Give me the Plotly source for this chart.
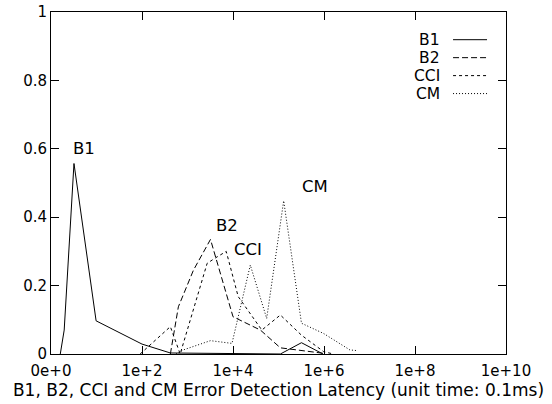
import plotly.graph_objects as go

# ---- data (x = latency in 0.1 ms units, y = fraction) ----
b1_x = [1.6, 1.95, 3.2, 9.8, 100, 420, 1.1e5, 3.2e5, 9.5e5]
b1_y = [0.0, 0.07, 0.557, 0.097, 0.029, 0.003, 0.0, 0.033, 0.0]

b2_x = [420, 630, 1350, 3200, 1.0e4, 4.0e4, 1.1e5, 9.8e5]
b2_y = [0.0, 0.138, 0.245, 0.335, 0.109, 0.07, 0.018, 0.002]

cci_x = [91, 420, 690, 2700, 4000, 7100, 1.3e4, 4.3e4, 1.1e5, 3.2e5, 9.8e5, 1.6e6]
cci_y = [0.0, 0.08, 0.0, 0.265, 0.28, 0.30, 0.168, 0.07, 0.114, 0.055, 0.007, 0.0]

cm_x = [560, 810, 3200, 9500, 2.4e4, 5.5e4, 1.3e5, 3.2e5, 9.8e5, 3.7e6, 5.2e6]
cm_y = [0.0, 0.012, 0.039, 0.031, 0.26, 0.104, 0.448, 0.09, 0.06, 0.012, 0.01]

series_names = ["B1", "B2", "CCI", "CM"]
x_tick_vals = [1, 1e2, 1e4, 1e6, 1e8, 1e10]
x_tick_text = ["0e+0", "1e+2", "1e+4", "1e+6", "1e+8", "1e+10"]
y_tick_vals = [0, 0.2, 0.4, 0.6, 0.8, 1]
y_tick_text = ["0", "0.2", "0.4", "0.6", "0.8", "1"]
x_title = "B1, B2, CCI and CM Error Detection Latency (unit time: 0.1ms)"

# ---- styles ----
FONT = "DejaVu Sans"
TICK_FS = 15
LABEL_FS = 16.5
KEY_FS = 15.5
TITLE_FS = 17
dashes = {"B1": "solid", "B2": "6px,3px", "CCI": "3px,3px", "CM": "1px,2px"}
data = {"B1": (b1_x, b1_y), "B2": (b2_x, b2_y), "CCI": (cci_x, cci_y), "CM": (cm_x, cm_y)}

fig = go.Figure()
for name in series_names:
    xs, ys = data[name]
    fig.add_trace(go.Scatter(x=xs, y=ys, mode="lines", name=name, showlegend=False,
                             line=dict(color="black", width=1, dash=dashes[name])))

# in-plot labels (log10 x positions)
label_pos = {"B1": (0.73, 0.601), "B2": (3.865, 0.377), "CCI": (4.34, 0.306), "CM": (5.8, 0.489)}
for name in series_names:
    lx, ly = label_pos[name]
    fig.add_annotation(x=lx, y=ly, xref="x", yref="y", text=name, showarrow=False,
                       font=dict(family=FONT, size=LABEL_FS, color="black"))

# custom gnuplot-style key: text on the left, line sample on the right
key_top = 0.919
key_step = 0.0525
for i, name in enumerate(series_names):
    yk = key_top - i * key_step
    fig.add_annotation(x=0.859, y=yk, xref="paper", yref="paper", text=name, showarrow=False,
                       xanchor="right", yanchor="middle",
                       font=dict(family=FONT, size=KEY_FS, color="black"))
    fig.add_shape(type="line", xref="paper", yref="paper", x0=0.8836, x1=0.9583, y0=yk, y1=yk,
                  line=dict(color="black", width=1, dash=dashes[name]))

axis_common = dict(showline=True, linecolor="black", linewidth=1, mirror="ticks",
                   ticks="inside", ticklen=8, tickcolor="black", showgrid=False, zeroline=False,
                   automargin=False, ticklabeloverflow="allow",
                   tickfont=dict(family=FONT, size=TICK_FS, color="black"))

fig.update_xaxes(type="log", range=[0, 10], tickvals=x_tick_vals, ticktext=x_tick_text,
                 ticklabelstandoff=3,
                 title=dict(text=x_title, font=dict(family=FONT, size=TITLE_FS, color="black"),
                            standoff=1),
                 **axis_common)
fig.update_yaxes(range=[0, 1], tickvals=y_tick_vals, ticktext=y_tick_text, **axis_common)

fig.update_layout(width=552, height=404, plot_bgcolor="white", paper_bgcolor="white",
                  margin=dict(l=51, r=46, t=12, b=50), hovermode=False,
                  font=dict(family=FONT, size=TICK_FS, color="black"))

# remove the default 8px page margin so the figure fills the window exactly
fig.write_html("out.html", config={"displayModeBar": False, "staticPlot": True},
               post_script="document.body.style.margin='0';")
